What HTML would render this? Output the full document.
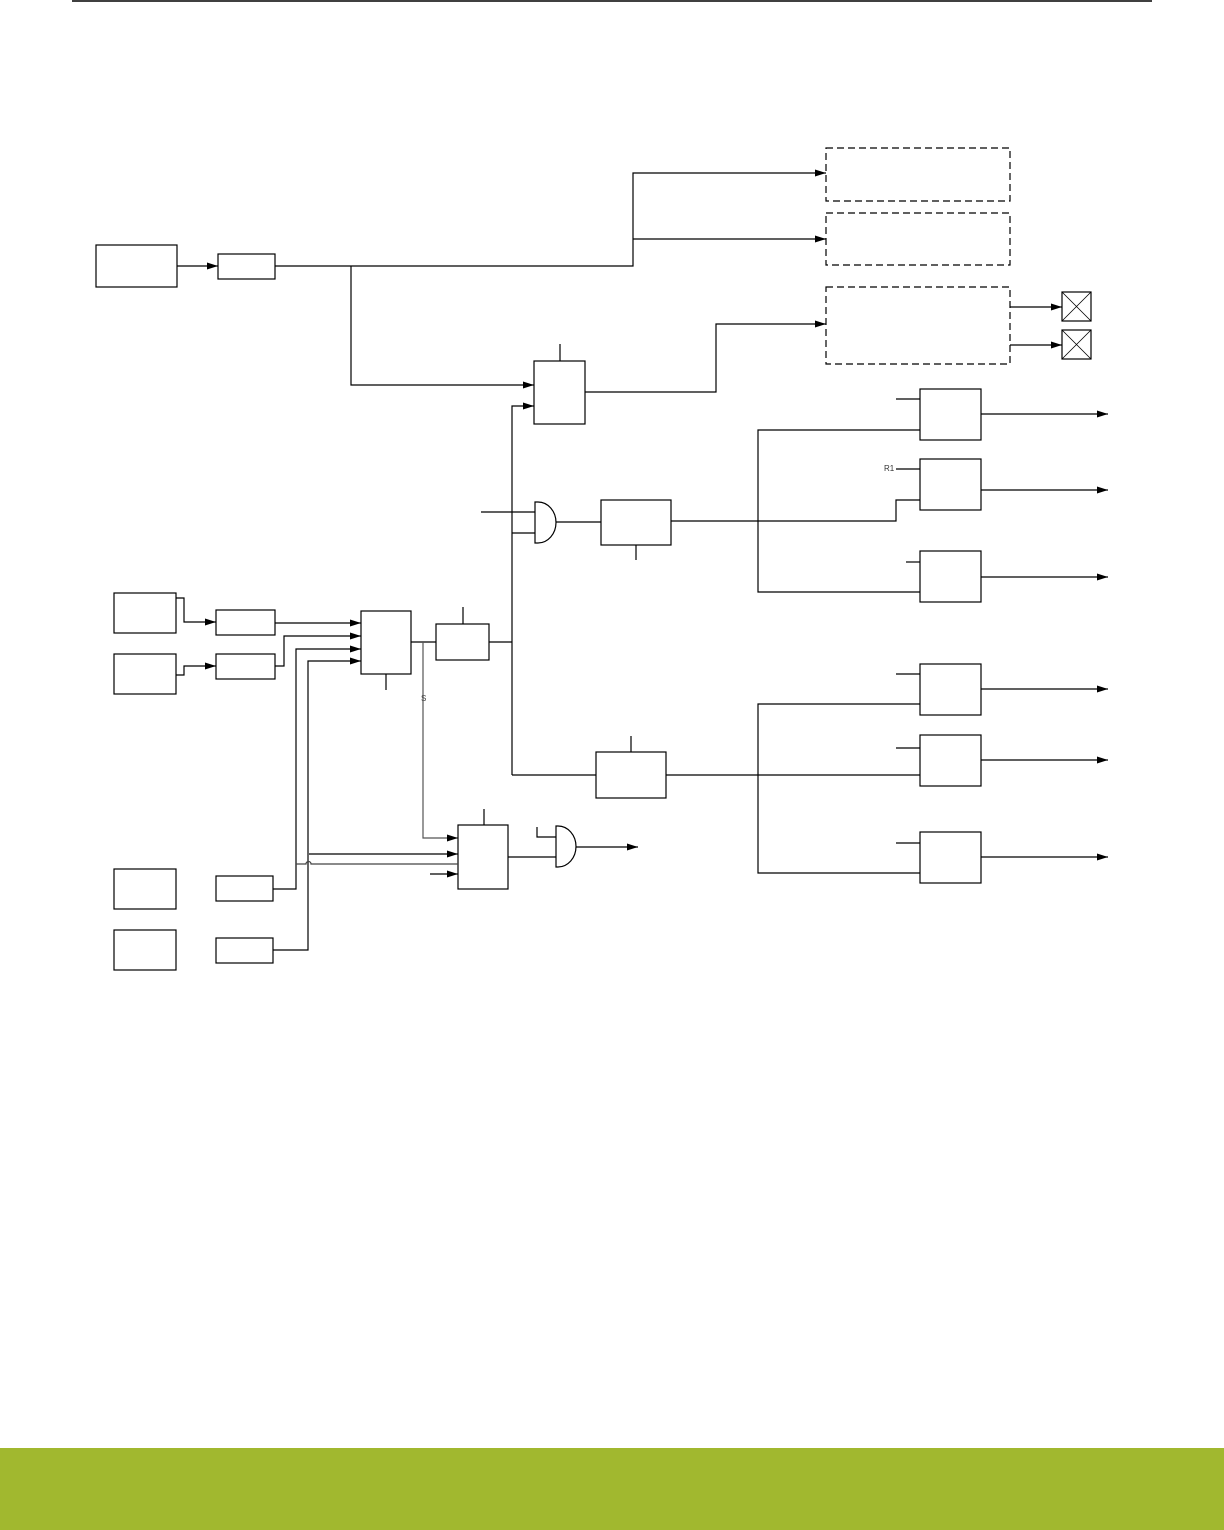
<!DOCTYPE html>
<html><head><style>
html,body{margin:0;padding:0;background:#fff;}
svg{display:block;}
</style></head><body>
<svg width="1224" height="1530" viewBox="0 0 1224 1530" xmlns="http://www.w3.org/2000/svg">
<defs>
<marker id="a" markerWidth="12" markerHeight="10" refX="11" refY="5" orient="auto" markerUnits="userSpaceOnUse">
<path d="M0,1.5 L11,5 L0,8.5 z" fill="#000"/></marker>
</defs>
<line x1="72" y1="1" x2="1152" y2="1" stroke="#000" stroke-width="1.5"/>
<rect x="0" y="1448" width="1224" height="82" fill="#a1b82f"/>
<g fill="none" stroke="#000" stroke-width="1.2">
<rect x="96" y="245" width="81" height="42"/>
<line x1="177" y1="266" x2="218" y2="266" marker-end="url(#a)"/>
<rect x="218" y="254" width="57" height="25"/>
<polyline points="275,266 633,266 633,173 826,173" marker-end="url(#a)"/>
<line x1="633" y1="239" x2="826" y2="239" marker-end="url(#a)"/>
<g stroke-dasharray="7,4">
<rect x="826" y="148" width="184" height="53"/>
<rect x="826" y="213" width="184" height="52"/>
<rect x="826" y="287" width="184" height="77"/>
</g>
<line x1="1010" y1="307" x2="1062" y2="307" marker-end="url(#a)"/>
<line x1="1010" y1="345" x2="1062" y2="345" marker-end="url(#a)"/>
<rect x="1062" y="292" width="29" height="29"/>
<path d="M1062,292 L1091,321 M1091,292 L1062,321" stroke-width="0.8"/>
<rect x="1062" y="330" width="29" height="29"/>
<path d="M1062,330 L1091,359 M1091,330 L1062,359" stroke-width="0.8"/>
<polyline points="351,266 351,385 534,385" marker-end="url(#a)"/>
<rect x="534" y="361" width="51" height="63"/>
<line x1="560" y1="344" x2="560" y2="361"/>
<polyline points="585,392 716,392 716,324 826,324" marker-end="url(#a)"/>
<polyline points="512,775 512,406 534,406" marker-end="url(#a)"/>
<path d="M535,502 L538,502 A18,20.5 0 0 1 538,543 L535,543 Z"/>
<line x1="481" y1="512" x2="535" y2="512"/>
<line x1="512" y1="533" x2="535" y2="533"/>
<line x1="556" y1="522" x2="601" y2="522"/>
<rect x="601" y="500" width="70" height="45"/>
<line x1="636" y1="545" x2="636" y2="560"/>
<polyline points="671,521 896,521 896,500 920,500"/>
<polyline points="920,430 758,430 758,592 920,592"/>
<rect x="920" y="389" width="61" height="51"/>
<rect x="920" y="459" width="61" height="51"/>
<rect x="920" y="551" width="61" height="51"/>
<line x1="896" y1="399" x2="920" y2="399"/>
<line x1="896" y1="469" x2="920" y2="469"/>
<line x1="906" y1="562" x2="920" y2="562"/>
<line x1="981" y1="414" x2="1108" y2="414" marker-end="url(#a)"/>
<line x1="981" y1="490" x2="1108" y2="490" marker-end="url(#a)"/>
<line x1="981" y1="577" x2="1108" y2="577" marker-end="url(#a)"/>
<line x1="512" y1="775" x2="596" y2="775"/>
<rect x="596" y="752" width="70" height="46"/>
<line x1="631" y1="736" x2="631" y2="752"/>
<line x1="666" y1="775" x2="920" y2="775"/>
<polyline points="920,704 758,704 758,873 920,873"/>
<rect x="920" y="664" width="61" height="51"/>
<rect x="920" y="735" width="61" height="51"/>
<rect x="920" y="832" width="61" height="51"/>
<line x1="896" y1="674" x2="920" y2="674"/>
<line x1="896" y1="748" x2="920" y2="748"/>
<line x1="896" y1="843" x2="920" y2="843"/>
<line x1="981" y1="689" x2="1108" y2="689" marker-end="url(#a)"/>
<line x1="981" y1="760" x2="1108" y2="760" marker-end="url(#a)"/>
<line x1="981" y1="857" x2="1108" y2="857" marker-end="url(#a)"/>
<rect x="114" y="593" width="62" height="40"/>
<rect x="114" y="654" width="62" height="40"/>
<rect x="114" y="869" width="62" height="40"/>
<rect x="114" y="930" width="62" height="40"/>
<rect x="216" y="610" width="59" height="25"/>
<rect x="216" y="654" width="59" height="25"/>
<rect x="216" y="876" width="57" height="25"/>
<rect x="216" y="938" width="57" height="25"/>
<polyline points="176,598 184,598 184,622 216,622" marker-end="url(#a)"/>
<polyline points="176,675 184,675 184,666 216,666" marker-end="url(#a)"/>
<line x1="275" y1="623" x2="361" y2="623" marker-end="url(#a)"/>
<polyline points="275,666 284,666 284,636 361,636" marker-end="url(#a)"/>
<polyline points="273,889 296,889 296,649 361,649" marker-end="url(#a)"/>
<polyline points="273,950 308,950 308,661 361,661" marker-end="url(#a)"/>
<rect x="361" y="611" width="50" height="63"/>
<line x1="386" y1="674" x2="386" y2="690"/>
<line x1="411" y1="642" x2="436" y2="642"/>
<rect x="436" y="624" width="53" height="36"/>
<line x1="463" y1="607" x2="463" y2="624"/>
<line x1="489" y1="642" x2="512" y2="642"/>
<polyline points="423,642 423,838 458,838" stroke="#555" marker-end="url(#a)"/>
<rect x="458" y="825" width="50" height="64"/>
<line x1="484" y1="809" x2="484" y2="825"/>
<line x1="309" y1="854" x2="458" y2="854" marker-end="url(#a)"/>
<path d="M296,864 L306,864 A2.5,2.5 0 0 1 311,864 L458,864" stroke="#444"/>
<line x1="430" y1="874" x2="458" y2="874" marker-end="url(#a)"/>
<line x1="508" y1="857" x2="556" y2="857"/>
<path d="M556,826 L558,826 A18,20.5 0 0 1 558,867 L556,867 Z"/>
<polyline points="537,827 537,837 556,837"/>
<line x1="576" y1="847" x2="638" y2="847" marker-end="url(#a)"/>
</g>
<text x="884" y="471" font-family="Liberation Sans, sans-serif" font-size="8" fill="#333">R1</text>
<text x="421" y="701" font-family="Liberation Sans, sans-serif" font-size="8" fill="#444">S</text>
</svg>
</body></html>
